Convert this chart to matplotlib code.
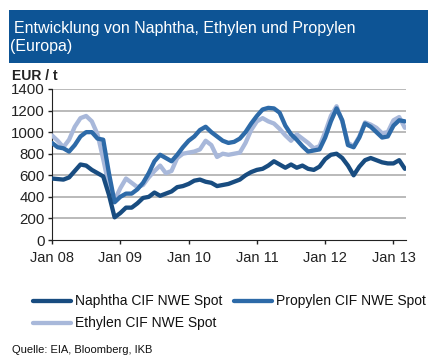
import matplotlib.pyplot as plt
import numpy as np
from matplotlib.lines import Line2D
from matplotlib.patches import Rectangle

plt.rcParams['font.family'] = ['Liberation Sans', 'DejaVu Sans']

# monthly values, Jan 2008 .. Mar 2013 (EUR / t)
naphtha = [570, 565, 560, 580, 640, 700, 690, 650, 620, 590, 420, 210,
           250, 300, 300, 340, 390, 400, 440, 410, 430, 450, 490, 500,
           520, 550, 560, 540, 530, 500, 510, 520, 540, 560, 600, 630,
           650, 660, 690, 730, 700, 670, 700, 670, 690, 660, 650, 680,
           750, 790, 800, 760, 690, 600, 680, 740, 760, 740, 720, 710,
           710, 740, 660]
propylen = [900, 860, 850, 820, 880, 960, 1000, 1000, 940, 930, 620, 350,
            400, 430, 430, 470, 530, 620, 730, 790, 760, 730, 790, 860,
            920, 960, 1020, 1050, 1000, 960, 920, 900, 910, 940, 1000, 1080,
            1150, 1210, 1225, 1220, 1180, 1060, 980, 930, 870, 820, 830, 840,
            950, 1100, 1220, 1110, 880, 860, 950, 1080, 1050, 1000, 950, 960,
            1060, 1110, 1100]
ethylen = [970, 920, 860, 930, 1050, 1130, 1150, 1100, 980, 750, 500, 370,
           480, 570, 530, 490, 510, 580, 640, 690, 620, 640, 760, 800,
           810, 820, 840, 920, 880, 770, 800, 790, 800, 810, 900, 1020,
           1100, 1130, 1100, 1080, 1030, 970, 920, 980, 940, 900, 850, 870,
           1000, 1150, 1240, 1100, 900, 870, 960, 1090, 1070, 1040, 990, 1000,
           1110, 1140, 1040]
year_labels = ['Jan 08', 'Jan 09', 'Jan 10', 'Jan 11', 'Jan 12', 'Jan 13']
y_ticks = [0, 200, 400, 600, 800, 1000, 1200, 1400]

c_naph = '#184c80'
c_prop = '#2d6aa8'
c_eth = '#a8b8da'
c_bar = '#0d5495'

fig = plt.figure(figsize=(4.36, 3.59), dpi=100)

# title bar
fig.add_artist(Rectangle((9 / 436, 1 - 63 / 359), 419 / 436, 53 / 359,
                         transform=fig.transFigure, color=c_bar, lw=0))
fig.text(14 / 436, 1 - 28 / 359, 'Entwicklung von Naphtha, Ethylen und Propylen',
         color='white', fontsize=11.5, va='center', ha='left')
fig.text(10 / 436, 1 - 47 / 359, '(Europa)',
         color='white', fontsize=11.5, va='center', ha='left')

ax = fig.add_axes([52 / 436, 1 - 240 / 359, 354 / 436, 151 / 359])
t = np.arange(len(naphtha))
ax.plot(t, ethylen, color=c_eth, lw=3.1, solid_capstyle='round', zorder=3)
ax.plot(t, propylen, color=c_prop, lw=3.1, solid_capstyle='round', zorder=4)
ax.plot(t, naphtha, color=c_naph, lw=3.1, solid_capstyle='round', zorder=5)

ax.set_xlim(0, 62.2)
ax.set_ylim(0, 1400)
ax.set_yticks(y_ticks)
ax.set_yticklabels([str(v) for v in y_ticks], fontsize=10.8)
ax.set_xticks(np.arange(0, 61, 12))
ax.set_xticklabels(year_labels, fontsize=10.5)
for v in y_ticks[1:]:
    ax.axhline(v, color='#b4b4b4', lw=1.3, zorder=1)
for s in ['top', 'right']:
    ax.spines[s].set_visible(False)
ax.spines['left'].set_color('#222222')
ax.spines['bottom'].set_color('#222222')
ax.tick_params(axis='y', length=3, width=1, pad=2, colors='#222222')
ax.tick_params(axis='x', length=3, width=1, pad=5, colors='#222222')

fig.text(12 / 436, 1 - 76 / 359, 'EUR / t', fontsize=10, fontweight='bold',
         va='center', ha='left', color='#222222')

# legend
def leg(x0, y, color, label):
    fig.add_artist(Line2D([x0 / 436, (x0 + 38) / 436], [1 - y / 359, 1 - y / 359],
                          transform=fig.transFigure, color=color, lw=3.1,
                          solid_capstyle='round'))
    fig.text((x0 + 42) / 436, 1 - y / 359, label, fontsize=10,
             va='center', ha='left', color='#111111')

leg(33, 301, c_naph, 'Naphtha CIF NWE Spot')
leg(234, 301, c_prop, 'Propylen CIF NWE Spot')
leg(33, 323, c_eth, 'Ethylen CIF NWE Spot')

fig.text(12 / 436, 1 - 350 / 359, 'Quelle: EIA, Bloomberg, IKB', fontsize=8,
         va='center', ha='left', color='#111111')

fig.savefig('out.png', dpi=100)
